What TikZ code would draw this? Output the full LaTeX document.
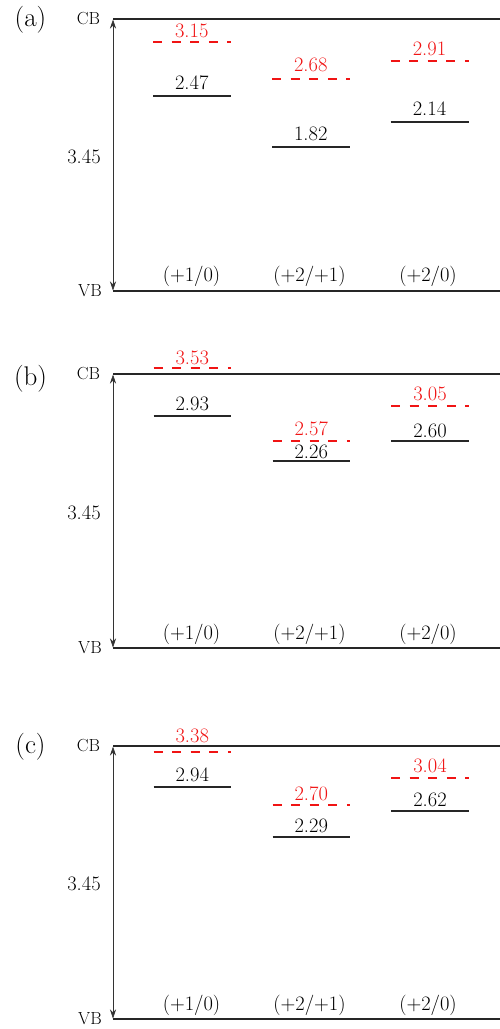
\documentclass[tikz,border=0pt]{standalone}
\usetikzlibrary{arrows.meta}
\definecolor{levelred}{RGB}{240,20,20}
\tikzset{
  x=1pt, y=-1pt,
  bandedge/.style={line width=1.3pt, draw=black!85},
  blklevel/.style={line width=1.3pt, draw=black!85},
  redlevel/.style={line width=1.3pt, draw=levelred, dash pattern=on 9pt off 9.6pt},
  blklevel label/.style={inner sep=0pt, text=black, font=\fontsize{20.5}{24}\selectfont},
  redlevel label/.style={inner sep=0pt, text=levelred, font=\fontsize{20.5}{24}\selectfont},
  gaparrow/.style={line width=0.7pt, draw=black!80, {Stealth[length=9pt,width=6pt]}-{Stealth[length=9pt,width=6pt]}, shorten <=0.5pt, shorten >=0.5pt},
  bandtext/.style={inner sep=0pt, text=black, font=\fontsize{17.5}{20}\selectfont},
  gaptext/.style={inner sep=0pt, text=black, font=\fontsize{20.5}{24}\selectfont},
  chargetext/.style={inner sep=0pt, text=black, font=\fontsize{20.5}{24}\selectfont},
  paneltext/.style={inner sep=0pt, text=black, font=\fontsize{27}{32}\selectfont},
}
% #1 name, #2 style, #3 x left, #4 x right, #5 y, #6 text, #7 baseline y
\newcommand{\lvl}[7]{%
  \coordinate (#1l) at (#3,#5);
  \coordinate (#1r) at (#4,#5);
  \draw[#2] (#1l) -- (#1r);
  \node[#2 label, anchor=base] (#1t) at ({(#3+#4)/2},#7) {#6};
}
% #1 prefix, #2 letter, #3 letter y, #4 CB y, #5 VB y, #6 charge label y
\newcommand{\bandframe}[6]{%
  \coordinate (#1cbl) at (113,#4);
  \coordinate (#1cbr) at (500,#4);
  \coordinate (#1vbl) at (113,#5);
  \coordinate (#1vbr) at (500,#5);
  \draw[bandedge] (#1cbl) -- (#1cbr);
  \draw[bandedge] (#1vbl) -- (#1vbr);
  \draw[gaparrow] (#1vbl) -- (#1cbl);
  \node[paneltext] (#1let) at (30.5,#3) {(#2)};
  \node[bandtext] (#1cb) at (88.5,#4) {CB};
  \node[bandtext] (#1vb) at (90,#5) {VB};
  \node[gaptext] (#1gap) at (84,{(#4+#5)/2+1.5}) {3.45};
  \node[chargetext] (#1q1) at (191.5,#6) {(+1/0)};
  \node[chargetext] (#1q2) at (309.5,#6) {(+2/+1)};
  \node[chargetext] (#1q3) at (428,#6) {(+2/0)};
}
\begin{document}
\begin{tikzpicture}
\useasboundingbox (0,0) rectangle (500,1029);
% ---------- panel (a)
\bandframe{a}{a}{20}{19}{291}{276}
\lvl{ab1}{blklevel}{153}{230.5}{96}{2.47}{89.3}
\lvl{ab2}{blklevel}{272}{349.5}{147}{1.82}{140}
\lvl{ab3}{blklevel}{390.5}{468.5}{122}{2.14}{115}
\lvl{ar1}{redlevel}{153}{230.5}{42}{3.15}{37.3}
\lvl{ar2}{redlevel}{272}{349.5}{79}{2.68}{71.7}
\lvl{ar3}{redlevel}{390.5}{468.5}{61}{2.91}{55}
% ---------- panel (b)
\bandframe{b}{b}{379}{374}{648}{634}
\lvl{bb1}{blklevel}{153.5}{231}{416}{2.93}{410}
\lvl{bb2}{blklevel}{272.5}{350}{461}{2.26}{458.3}
\lvl{bb3}{blklevel}{391}{469}{441}{2.60}{437.3}
\lvl{br1}{redlevel}{153.5}{231}{368}{3.53}{364}
\lvl{br2}{redlevel}{272.5}{350}{441}{2.57}{435}
\lvl{br3}{redlevel}{391}{469}{406}{3.05}{400}
% ---------- panel (c)
\bandframe{c}{c}{747}{746}{1019}{1005}
\lvl{cb1}{blklevel}{153.5}{231}{787}{2.94}{781.7}
\lvl{cb2}{blklevel}{272.5}{350}{837}{2.29}{832.7}
\lvl{cb3}{blklevel}{391}{469}{811}{2.62}{806.7}
\lvl{cr1}{redlevel}{153.5}{231}{752}{3.38}{742.7}
\lvl{cr2}{redlevel}{272.5}{350}{805}{2.70}{800}
\lvl{cr3}{redlevel}{391}{469}{778}{3.04}{772.7}
\end{tikzpicture}
\end{document}
